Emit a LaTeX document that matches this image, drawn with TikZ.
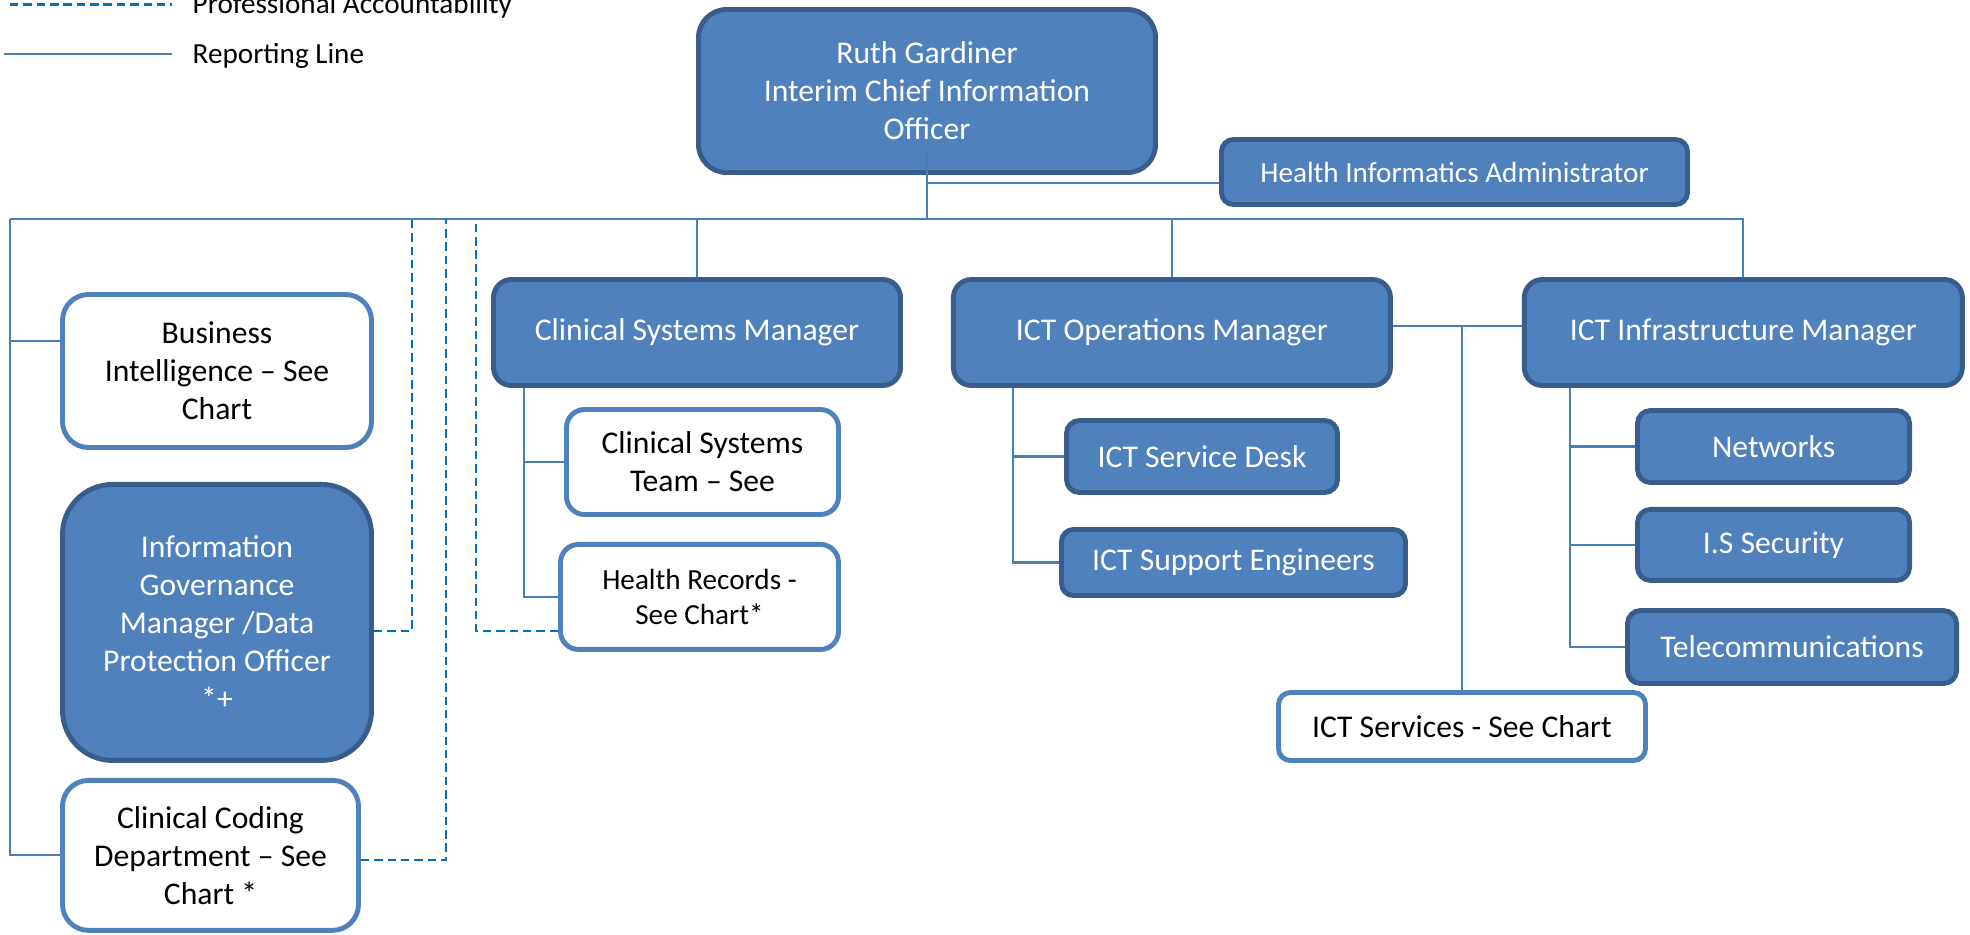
\documentclass[tikz,border=0pt]{standalone}
\usepackage{fontspec}
\setmainfont{Carlito}
\usetikzlibrary{positioning}
\definecolor{boxfill}{RGB}{79,129,189}
\definecolor{boxedge}{RGB}{56,93,138}
\definecolor{linkblue}{RGB}{74,126,187}
\definecolor{dashblue}{RGB}{0,112,192}

\begin{document}
\begin{tikzpicture}[node distance=0.3cm]
  \tikzstyle{post}=[rectangle,rounded corners=0.18cm,line width=1.4pt,draw=boxedge,fill=boxfill,text=white,align=center,inner sep=0pt,font=\fontsize{9}{10.8}\selectfont]
  \tikzstyle{chart}=[post,draw=boxfill,fill=white,text=black]
  \tikzstyle{small}=[font=\fontsize{8.3}{10}\selectfont]
  \tikzstyle{report}=[line width=0.6pt,draw=linkblue]
  \tikzstyle{prof}=[line width=0.6pt,draw=dashblue,dash pattern=on 2.4pt off 1.4pt]

  \useasboundingbox (0,0) rectangle (19.70,-9.34);

  % legend
  \coordinate (paL) at (0.10,-0.045);
  \coordinate (paR) at (1.72,-0.045);
  \coordinate (rlL) at (0.04,-0.54);
  \coordinate (rlR) at (1.72,-0.54);
  \draw [prof] (paL) -- (paR);
  \draw [report] (rlL) -- (rlR);
  \node [small,anchor=base west,inner sep=0pt] (paText) at (1.92,-0.13) {Professional Accountability};
  \node [small,anchor=base west,inner sep=0pt] (rlText) at (1.92,-0.63) {Reporting Line};

  % top
  \node [post,rounded corners=0.28cm,minimum width=4.57cm,minimum height=1.63cm] (CIO) at (9.27,-0.91) {Ruth Gardiner\\Interim Chief Information\\Officer};
  \node [post,small,rounded corners=0.12cm,minimum width=4.66cm,minimum height=0.65cm] (HIA) at (14.545,-1.72) {Health Informatics Administrator};

  % managers
  \node [post,minimum width=4.07cm,minimum height=1.06cm] (CSM) at (6.97,-3.325) {Clinical Systems Manager};
  \node [post,minimum width=4.37cm,minimum height=1.06cm] (OPS) [right=0.48cm of CSM] {ICT Operations Manager};
  \node [post,minimum width=4.38cm,minimum height=1.06cm] (INF) [right=1.29cm of OPS] {ICT Infrastructure Manager};

  % left column
  \node [chart,rounded corners=0.26cm,minimum width=3.09cm,minimum height=1.53cm] (BI) at (2.17,-3.71) {Business\\Intelligence – See\\Chart};
  \node [post,rounded corners=0.5cm,minimum width=3.09cm,minimum height=2.76cm] (IG) [below=0.32cm of BI] {Information\\Governance\\Manager /Data\\Protection Officer\\*+};
  \node [chart,rounded corners=0.26cm,minimum width=2.96cm,minimum height=1.50cm] (CC) [below right=0.15cm and 0cm of IG.south west] {Clinical Coding\\Department – See\\Chart *};

  % clinical systems
  \node [chart,minimum width=2.72cm,minimum height=1.05cm] (CST) at (7.025,-4.62) {Clinical Systems\\Team – See};
  \node [chart,small,minimum width=2.78cm,minimum height=1.05cm] (HR) [below left=0.25cm and 0cm of CST.south east] {Health Records -\\See Chart*};

  % operations
  \node [post,rounded corners=0.13cm,minimum width=2.71cm,minimum height=0.72cm] (SD) at (12.02,-4.565) {ICT Service Desk};
  \node [post,rounded corners=0.12cm,minimum width=3.44cm,minimum height=0.66cm] (SE) at (12.335,-5.625) {ICT Support Engineers};
  \node [chart,rounded corners=0.12cm,minimum width=3.67cm,minimum height=0.68cm] (ICTS) at (14.62,-7.265) {ICT Services - See Chart};

  % infrastructure
  \node [post,rounded corners=0.13cm,minimum width=2.72cm,minimum height=0.72cm] (NET) at (17.735,-4.465) {Networks};
  \node [post,rounded corners=0.13cm,minimum width=2.72cm,minimum height=0.71cm] (SEC) [below=0.22cm of NET] {I.S Security};
  \node [post,rounded corners=0.13cm,minimum width=3.29cm,minimum height=0.73cm] (TEL) at (17.92,-6.47) {Telecommunications};

  % reporting lines
  \coordinate (busL) at (0.10,-2.19);
  \draw [report] ([yshift=2.3mm]CIO.south) -- (CIO.south |- busL);
  \draw [report] ([yshift=-1.1mm]HIA.west) -| (CIO.south);
  \draw [report] (busL) -| (INF.north);
  \draw [report] (CSM.north |- busL) -- (CSM.north);
  \draw [report] (OPS.north |- busL) -- (OPS.north);
  \draw [report] (busL) |- (CC.west);
  \draw [report] ([yshift=3mm]BI.west) -| (busL);

  \draw [report] ([xshift=3.3mm]CSM.south west) |- (HR.west);
  \draw [report] (CST.west) -| ([xshift=3.3mm]CSM.south west);

  \draw [report] ([xshift=6.2mm]OPS.south west) |- (SE.west);
  \draw [report] (SD.west) -| ([xshift=6.2mm]OPS.south west);

  \draw [report] ([xshift=4.8mm]INF.south west) |- (TEL.west);
  \draw [report] (NET.west) -| ([xshift=4.8mm]INF.south west);
  \draw [report] (SEC.west) -| ([xshift=4.8mm]INF.south west);

  \draw [report] ([yshift=0.65mm]OPS.east) -- ([yshift=0.65mm]INF.west);
  \draw [report] (ICTS.north) |- ([yshift=0.65mm]INF.west);

  % professional accountability
  \coordinate (igUp) at (4.12,-2.19);
  \coordinate (ccUp) at (4.46,-2.19);
  \coordinate (hrUp) at (4.76,-2.19);
  \draw [prof] ([yshift=-0.85mm]IG.east) -| (igUp);
  \draw [prof] ([yshift=-0.5mm]CC.east) -| (ccUp);
  \draw [prof] ([yshift=-3.4mm]HR.west) -| (hrUp);
\end{tikzpicture}
\end{document}
